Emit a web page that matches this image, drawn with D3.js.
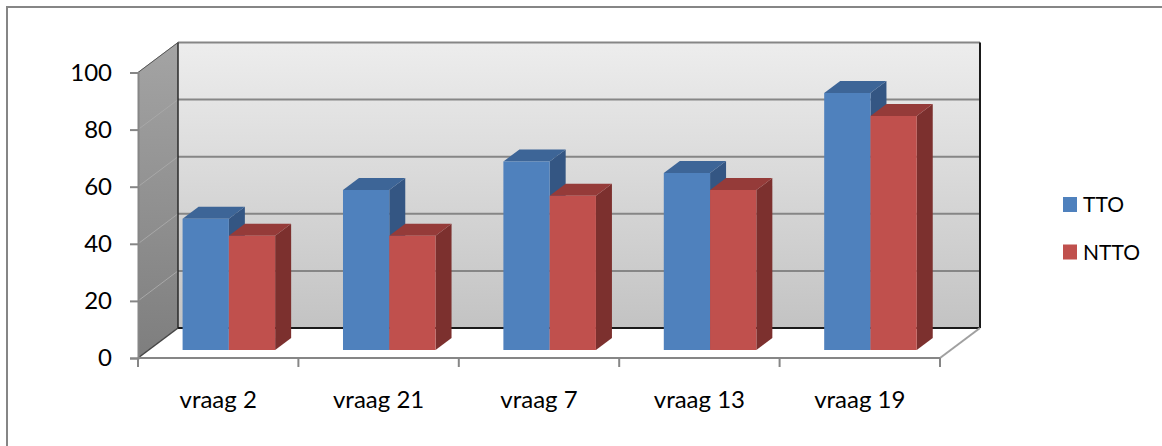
<!DOCTYPE html>
<meta charset="utf-8">
<title>TTO / NTTO</title>
<style>
body { margin: 0; background: white; }
svg { font-family: 'Lato', sans-serif; }
</style>
<body>
<script src="https://d3js.org/d3.v7.min.js"></script>
<script>

// data
const categories = ["vraag 2", "vraag 21", "vraag 7", "vraag 13", "vraag 19"];
const seriesNames = ["TTO", "NTTO"];
const tto  = [46, 56, 66, 62, 90];
const ntto = [40, 40, 54, 56, 82];
const yTicks = [0, 20, 40, 60, 80, 100];

const width = 1162, height = 446;

// depth of the 3d box (pixels shift of the back wall)
const DX = 40, DY = 30;
const barZ = 8 / 30, barDepth = 12 / 30;

const colors = {
  TTO:  { front: "#4f81bd", top: "#3d6597", side: "#345683" },
  NTTO: { front: "#c0504d", top: "#953b39", side: "#7c302e" }
};

const svg = d3.select("body").append("svg")
    .attr("width", width)
    .attr("height", height);

// gradients for walls
const defs = svg.append("defs");
const gBack = defs.append("linearGradient").attr("id", "backwall")
    .attr("x1", 0).attr("y1", 0).attr("x2", 0).attr("y2", 1);
gBack.append("stop").attr("offset", "0%").attr("stop-color", "#ededed");
gBack.append("stop").attr("offset", "100%").attr("stop-color", "#c3c3c3");
const gSide = defs.append("linearGradient").attr("id", "sidewall")
    .attr("x1", 0).attr("y1", 0).attr("x2", 0).attr("y2", 1);
gSide.append("stop").attr("offset", "0%").attr("stop-color", "#a4a4a4");
gSide.append("stop").attr("offset", "100%").attr("stop-color", "#7e7e7e");

// outer frame
svg.append("rect")
    .attr("x", 7).attr("y", 7)
    .attr("width", 1200).attr("height", 500)
    .attr("fill", "white")
    .attr("stroke", "#868686")
    .attr("stroke-width", 2);

// scales
const x0 = d3.scaleBand().domain(categories).range([138, 940]).padding(0);
const groupW = x0.bandwidth() * 0.577;
const x1 = d3.scaleBand().domain(seriesNames).range([0, groupW]);
const y = d3.scaleLinear().domain([0, 100]).range([358, 72.5]);

const P = (px, py, z) => [px + z * DX, py - z * DY];
const poly = pts => "M" + pts.map(p => p.join(",")).join("L") + "Z";

const x0L = x0.range()[0], x0R = x0.range()[1];

// side wall
svg.append("path")
    .attr("d", poly([P(x0L, y(100), 0), P(x0L, y(100), 1), P(x0L, y(0), 1), P(x0L, y(0), 0)]))
    .attr("fill", "url(#sidewall)");

// back wall
svg.append("path")
    .attr("d", poly([P(x0L, y(100), 1), P(x0R, y(100), 1), P(x0R, y(0), 1), P(x0L, y(0), 1)]))
    .attr("fill", "url(#backwall)");

// floor
svg.append("path")
    .attr("d", poly([P(x0L, y(0), 0), P(x0L, y(0), 1), P(x0R, y(0), 1), P(x0R, y(0), 0)]))
    .attr("fill", "white");

// gridlines on side wall
svg.selectAll("line.sgrid")
  .data(yTicks.slice(1))
  .enter().append("line")
    .attr("class", "sgrid")
    .attr("x1", x0L).attr("y1", d => y(d))
    .attr("x2", x0L + DX).attr("y2", d => y(d) - DY)
    .attr("stroke", "#a8a8a8").attr("stroke-width", 1);

// gridlines on back wall
svg.selectAll("line.bgrid")
  .data(yTicks.slice(1))
  .enter().append("line")
    .attr("class", "bgrid")
    .attr("x1", x0L + DX).attr("y1", d => y(d) - DY)
    .attr("x2", x0R + DX).attr("y2", d => y(d) - DY)
    .attr("stroke", "#868686").attr("stroke-width", 2);

// back wall edges
svg.append("line")
    .attr("x1", x0L + DX).attr("y1", y(100) - DY)
    .attr("x2", x0L + DX).attr("y2", y(0) - DY)
    .attr("stroke", "#2a2a2a").attr("stroke-width", 1.5);
svg.append("line")
    .attr("x1", x0L + DX).attr("y1", y(0) - DY)
    .attr("x2", x0R + DX).attr("y2", y(0) - DY)
    .attr("stroke", "#1a1a1a").attr("stroke-width", 2);
svg.append("line")
    .attr("x1", x0R + DX).attr("y1", y(100) - DY)
    .attr("x2", x0R + DX).attr("y2", y(0) - DY)
    .attr("stroke", "#1a1a1a").attr("stroke-width", 2);
svg.append("line")
    .attr("x1", x0L).attr("y1", y(100))
    .attr("x2", x0L + DX).attr("y2", y(100) - DY)
    .attr("stroke", "#555").attr("stroke-width", 1);
svg.append("line")
    .attr("x1", x0L).attr("y1", y(0))
    .attr("x2", x0L + DX).attr("y2", y(0) - DY)
    .attr("stroke", "#444").attr("stroke-width", 1.5);

// floor right edge
svg.append("line")
    .attr("x1", x0R).attr("y1", y(0))
    .attr("x2", x0R + DX).attr("y2", y(0) - DY)
    .attr("stroke", "#a0a0a0").attr("stroke-width", 2);

// bars
const data = categories.map((c, i) => ({ cat: c, values: [
  { key: "TTO", value: tto[i] },
  { key: "NTTO", value: ntto[i] }
]}));

const groups = svg.selectAll("g.cat")
  .data(data)
  .enter().append("g")
    .attr("class", "cat");

groups.each(function(d) {
  const g = d3.select(this);
  const gx = x0(d.cat) + (x0.bandwidth() - groupW) / 2;
  d.values.forEach(v => {
    const xl = gx + x1(v.key), xr = xl + x1.bandwidth();
    const yt = y(v.value), yb = y(0);
    const z0 = barZ, z1 = barZ + barDepth;
    const c = colors[v.key];
    // side
    g.append("path")
      .attr("d", poly([P(xr, yt, z0), P(xr, yt, z1), P(xr, yb, z1), P(xr, yb, z0)]))
      .attr("fill", c.side);
    // top
    g.append("path")
      .attr("d", poly([P(xl, yt, z0), P(xl, yt, z1), P(xr, yt, z1), P(xr, yt, z0)]))
      .attr("fill", c.top);
    // front
    g.append("path")
      .attr("d", poly([P(xl, yt, z0), P(xr, yt, z0), P(xr, yb, z0), P(xl, yb, z0)]))
      .attr("fill", c.front);
  });
});

// y axis
const yAxis = svg.append("g")
    .attr("transform", "translate(" + x0L + ",0)")
    .call(d3.axisLeft(y).tickValues(yTicks).tickSize(8).tickPadding(18));
yAxis.select(".domain").attr("stroke", "#868686").attr("stroke-width", 2);
yAxis.selectAll(".tick line").attr("stroke", "#868686").attr("stroke-width", 2);
yAxis.selectAll(".tick text")
    .attr("fill", "#000")
    .style("font-size", "24px")
    .style("font-family", "Lato");

// x axis
const xAxis = svg.append("g")
    .attr("transform", "translate(0," + y(0) + ")");
xAxis.append("line")
    .attr("x1", x0L).attr("x2", x0R)
    .attr("stroke", "#868686").attr("stroke-width", 2);
xAxis.selectAll("line.xtick")
  .data(categories.map(c => x0(c)).concat([x0R]))
  .enter().append("line")
    .attr("class", "xtick")
    .attr("x1", d => d).attr("x2", d => d)
    .attr("y1", 0).attr("y2", 9)
    .attr("stroke", "#868686").attr("stroke-width", 2);
xAxis.selectAll("text")
  .data(categories)
  .enter().append("text")
    .attr("x", d => x0(d) + x0.bandwidth() / 2)
    .attr("y", 50)
    .attr("text-anchor", "middle")
    .style("font-size", "24px")
    .text(d => d);

// legend
const legend = svg.selectAll("g.legend")
  .data(seriesNames)
  .enter().append("g")
    .attr("class", "legend")
    .attr("transform", (d, i) => "translate(1063," + (197 + i * 47.5) + ")");
legend.append("rect")
    .attr("width", 14).attr("height", 15)
    .attr("fill", d => colors[d].front);
legend.append("text")
    .attr("x", 20).attr("y", 15)
    .style("font-size", "21px")
    .text(d => d);

</script>
</body>
